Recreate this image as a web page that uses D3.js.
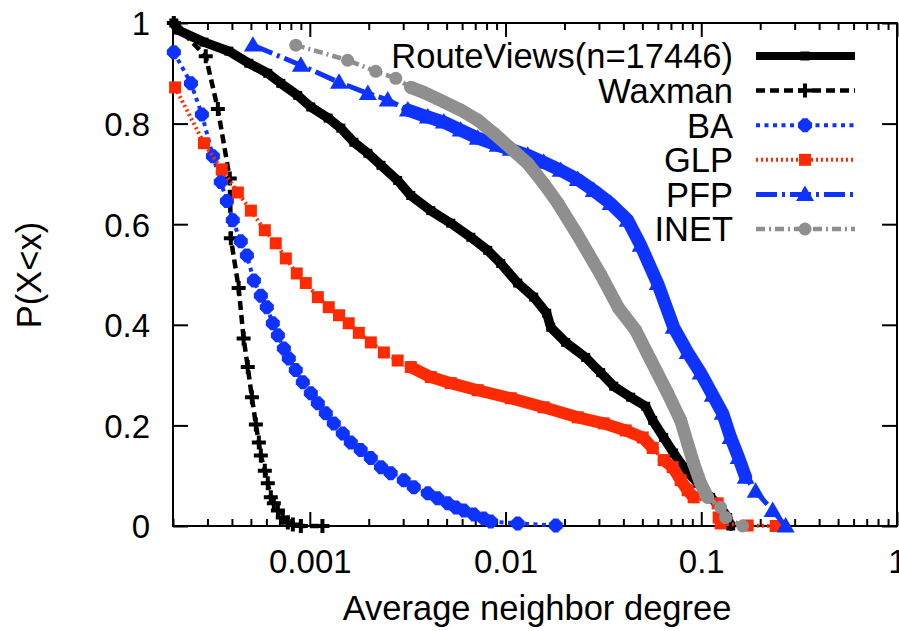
<!DOCTYPE html>
<html><head><meta charset="utf-8">
<script src="https://cdn.jsdelivr.net/npm/d3@7"></script>
<style>
body{margin:0;background:#fff}
text{font-family:"Liberation Sans",Arial,Helvetica,sans-serif;fill:#000}
</style>
</head><body>
<svg id="chart" width="899" height="631"></svg>
<script>
// ---------------- data ----------------
const seriesNames = ["RouteViews(n=17446)", "Waxman", "BA", "GLP", "PFP", "INET"];

const routeViewsX = [0.000202, 0.000212, 0.000288, 0.000386, 0.000488, 0.000610, 0.000711, 0.000868, 0.001012, 0.00124, 0.00144, 0.00168, 0.00198, 0.00231, 0.00281, 0.00328, 0.00415, 0.00525, 0.00665, 0.00811, 0.00945, 0.01154, 0.01393, 0.01623, 0.01702, 0.0203, 0.02569, 0.03063, 0.03569, 0.04359, 0.052, 0.05648, 0.06427, 0.07228, 0.08129, 0.09585, 0.1117, 0.1256, 0.1364, 0.1413];
const routeViewsY = [1.0, 0.986, 0.962, 0.944, 0.920, 0.900, 0.880, 0.856, 0.833, 0.811, 0.791, 0.763, 0.741, 0.717, 0.687, 0.657, 0.627, 0.602, 0.574, 0.548, 0.522, 0.483, 0.455, 0.423, 0.395, 0.365, 0.335, 0.305, 0.278, 0.256, 0.238, 0.210, 0.176, 0.145, 0.117, 0.085, 0.057, 0.037, 0.017, 0.0];

const waxmanX = [0.000202, 0.000294, 0.000339, 0.000390, 0.000395, 0.000433, 0.000459, 0.000482, 0.000506, 0.000530, 0.000549, 0.000562, 0.000589, 0.000610, 0.000632, 0.000655, 0.000687, 0.000728, 0.000772, 0.000819, 0.000900, 0.00116];
const waxmanY = [1.0, 0.934, 0.829, 0.691, 0.572, 0.473, 0.373, 0.316, 0.256, 0.202, 0.166, 0.140, 0.110, 0.085, 0.057, 0.045, 0.031, 0.017, 0.007, 0.003, 0.0, 0.0];

const baX = [0.000202, 0.000247, 0.000281, 0.000320, 0.000351, 0.000377, 0.000404, 0.000444, 0.000477, 0.000518, 0.000562, 0.000603, 0.000647, 0.000687, 0.000737, 0.000781, 0.000848, 0.000921, 0.001012, 0.001099, 0.001207, 0.001326, 0.001474, 0.00162, 0.00182, 0.00205, 0.00231, 0.00259, 0.00302, 0.0034, 0.00401, 0.0045, 0.00507, 0.00557, 0.00612, 0.00688, 0.00774, 0.0084, 0.01154, 0.01805];
const baY = [0.942, 0.880, 0.818, 0.735, 0.684, 0.646, 0.608, 0.566, 0.538, 0.488, 0.458, 0.435, 0.403, 0.379, 0.353, 0.333, 0.310, 0.286, 0.264, 0.244, 0.224, 0.204, 0.184, 0.166, 0.151, 0.135, 0.117, 0.105, 0.091, 0.077, 0.065, 0.055, 0.045, 0.037, 0.031, 0.023, 0.015, 0.009, 0.005, 0.001];

const glpX = [0.000205, 0.000288, 0.000355, 0.000429, 0.0005, 0.000589, 0.00067, 0.000754, 0.000858, 0.000954, 0.001099, 0.00125, 0.00141, 0.00158, 0.00178, 0.00205, 0.00239, 0.00281, 0.00328, 0.00415, 0.00525, 0.00721, 0.01063, 0.01567, 0.02338, 0.03173, 0.04111, 0.0502, 0.05648, 0.06427, 0.07144, 0.07847, 0.08518, 0.09145, 0.1213, 0.1227, 0.1256, 0.1726, 0.2399];
const glpY = [0.872, 0.761, 0.709, 0.663, 0.627, 0.588, 0.562, 0.532, 0.502, 0.483, 0.455, 0.435, 0.419, 0.403, 0.384, 0.365, 0.345, 0.329, 0.316, 0.296, 0.284, 0.270, 0.254, 0.236, 0.216, 0.204, 0.190, 0.176, 0.155, 0.131, 0.117, 0.091, 0.071, 0.057, 0.045, 0.017, 0.005, 0.001, 0.0];

const pfpX = [0.000512, 0.0009, 0.00141, 0.00198, 0.0025, 0.00317, 0.00401, 0.00484, 0.0059, 0.00721, 0.00912, 0.01063, 0.01298, 0.01567, 0.01914, 0.02338, 0.02821, 0.03446, 0.04208, 0.04903, 0.05989, 0.07228, 0.08518, 0.0993, 0.1144, 0.1286, 0.1413, 0.1552, 0.1686, 0.1896, 0.2316, 0.2698];
const pfpY = [0.956, 0.916, 0.882, 0.860, 0.847, 0.827, 0.813, 0.803, 0.787, 0.771, 0.757, 0.749, 0.737, 0.723, 0.707, 0.689, 0.667, 0.641, 0.608, 0.558, 0.482, 0.395, 0.345, 0.304, 0.260, 0.224, 0.176, 0.136, 0.097, 0.069, 0.031, 0.0];

const inetX = [0.000848, 0.00156, 0.00217, 0.00275, 0.00328, 0.00382, 0.00484, 0.0059, 0.00721, 0.0087, 0.01063, 0.01298, 0.01567, 0.01848, 0.02338, 0.03063, 0.03785, 0.04624, 0.05516, 0.06735, 0.07847, 0.08518, 0.09145, 0.0993, 0.1078, 0.1256, 0.1332, 0.1627];
const inetY = [0.956, 0.926, 0.904, 0.890, 0.872, 0.862, 0.843, 0.827, 0.807, 0.781, 0.751, 0.721, 0.681, 0.642, 0.578, 0.500, 0.433, 0.389, 0.330, 0.264, 0.210, 0.164, 0.124, 0.085, 0.057, 0.037, 0.017, 0.0];

const xTickValues = [0.001, 0.01, 0.1, 1];
const xTickLabels = ["0.001", "0.01", "0.1", "1"];
const yTickValues = [0, 0.2, 0.4, 0.6, 0.8, 1];
const yTickLabels = ["0", "0.2", "0.4", "0.6", "0.8", "1"];
const xAxisTitle = "Average neighbor degree";
const yAxisTitle = "P(X<x)";

// ---------------- layout & style ----------------
const BLUE = "#0f33ff", RED = "#ff2a00", GRAY = "#8f8f8f";
const L = 173, R = 897, T = 23, B = 526;
const styles = [
  {color: "#000", width: 8, dash: null, marker: "square", size: 9, bands: [[0, 39]], bandW: 9.5},
  {color: "#000", width: 4.5, dash: "9,5", marker: "plus", size: 14, bands: []},
  {color: BLUE, width: 4, dash: "4,4.5", marker: "star", size: 14, bands: []},
  {color: RED, width: 4, dash: "2,3", marker: "square", size: 12, bands: [[18, 28], [29, 33]], bandW: 12},
  {color: BLUE, width: 5, dash: "21,5,3,5", marker: "triangle", size: 18, bands: [[5, 28]], bandW: 13},
  {color: GRAY, width: 4.5, dash: "9,4,2,4", marker: "circle", size: 13, bands: [[4, 24]], bandW: 13}
];

const seriesX = [routeViewsX, waxmanX, baX, glpX, pfpX, inetX];
const seriesY = [routeViewsY, waxmanY, baY, glpY, pfpY, inetY];
const series = seriesNames.map((name, i) => ({
  name, style: styles[i],
  points: seriesX[i].map((v, j) => ({x: v, y: seriesY[i][j]}))
}));

const svg = d3.select("#chart");
const x = d3.scaleLog().domain([0.0002, 1]).range([L, R]);
const y = d3.scaleLinear().domain([0, 1]).range([B, T]);

// minor ticks
const minorX = [];
for (let d = -4; d <= -1; d++) for (let k = 2; k <= 9; k++) {
  const v = k * Math.pow(10, d);
  if (v >= 0.0002 && v < 1) minorX.push(v);
}

function styleAxis(g) {
  g.select(".domain").remove();
  g.selectAll(".tick line").attr("stroke", "#000").attr("stroke-width", 2);
  g.selectAll(".tick text").style("font-size", "33px");
}

// bottom major
svg.append("g").attr("transform", `translate(0,${B})`)
  .call(d3.axisBottom(x).tickValues(xTickValues).tickSizeInner(-14).tickSizeOuter(0).tickPadding(0)
    .tickFormat((d, i) => xTickLabels[i]))
  .call(styleAxis)
  .call(g => g.selectAll(".tick text").attr("y", 47).attr("dy", null));
// bottom minor
svg.append("g").attr("transform", `translate(0,${B})`)
  .call(d3.axisBottom(x).tickValues(minorX).tickSizeInner(-7).tickSizeOuter(0).tickFormat(""))
  .call(styleAxis);
// top major/minor
svg.append("g").attr("transform", `translate(0,${T})`)
  .call(d3.axisTop(x).tickValues(xTickValues).tickSizeInner(-14).tickSizeOuter(0).tickFormat(""))
  .call(styleAxis);
svg.append("g").attr("transform", `translate(0,${T})`)
  .call(d3.axisTop(x).tickValues(minorX).tickSizeInner(-7).tickSizeOuter(0).tickFormat(""))
  .call(styleAxis);
// left
svg.append("g").attr("transform", `translate(${L},0)`)
  .call(d3.axisLeft(y).tickValues(yTickValues).tickSizeInner(-15).tickSizeOuter(0).tickPadding(23)
    .tickFormat((d, i) => yTickLabels[i]))
  .call(styleAxis)
  .call(g => g.selectAll(".tick text").attr("dy", "0.36em"));
// right
svg.append("g").attr("transform", `translate(${R},0)`)
  .call(d3.axisRight(y).tickValues(yTickValues).tickSizeInner(-15).tickSizeOuter(0).tickFormat(""))
  .call(styleAxis);

// frame
svg.append("rect").attr("x", L).attr("y", T).attr("width", R - L).attr("height", B - T)
  .attr("fill", "none").attr("stroke", "#000").attr("stroke-width", 2);

// markers
function drawMarker(g, cx, cy, st) {
  const s = st.size, h = s / 2;
  if (st.marker === "square") {
    g.append("rect").attr("x", cx - h).attr("y", cy - h).attr("width", s).attr("height", s).attr("fill", st.color);
  } else if (st.marker === "plus") {
    g.append("path").attr("d", `M${cx - h},${cy}H${cx + h}M${cx},${cy - h}V${cy + h}`)
      .attr("stroke", st.color).attr("stroke-width", 4).attr("fill", "none");
  } else if (st.marker === "star") {
    const dd = h * 0.66;
    g.append("path").attr("d",
      `M${cx - h},${cy}H${cx + h}M${cx},${cy - h}V${cy + h}M${cx - dd},${cy - dd}L${cx + dd},${cy + dd}M${cx - dd},${cy + dd}L${cx + dd},${cy - dd}`)
      .attr("stroke", st.color).attr("stroke-width", 5.5).attr("fill", "none");
  } else if (st.marker === "triangle") {
    g.append("path").attr("d", `M${cx},${cy - h}L${cx + h},${cy + h * 0.72}L${cx - h},${cy + h * 0.72}Z`).attr("fill", st.color);
  } else if (st.marker === "circle") {
    g.append("circle").attr("cx", cx).attr("cy", cy).attr("r", h).attr("fill", st.color);
  }
}

const line = d3.line().x(d => x(d.x)).y(d => y(d.y));

series.forEach(s => {
  const g = svg.append("g");
  const st = s.style;
  g.append("path").attr("d", line(s.points)).attr("fill", "none")
    .attr("stroke", st.color).attr("stroke-width", st.width)
    .attr("stroke-dasharray", st.dash).attr("stroke-linejoin", "round");
  st.bands.forEach(([a, b]) => {
    g.append("path").attr("d", line(s.points.slice(a, b + 1))).attr("fill", "none")
      .attr("stroke", st.color).attr("stroke-width", st.bandW)
      .attr("stroke-linejoin", "round").attr("stroke-linecap", "round");
  });
  s.points.forEach(p => drawMarker(g, x(p.x), y(p.y), st));
});

// legend
const lg = svg.append("g");
series.forEach((s, i) => {
  const ry = 56 + i * 34.6;
  lg.append("text").attr("x", 733).attr("y", ry).attr("dy", "0.36em")
    .attr("text-anchor", "end").style("font-size", "34.5px").text(s.name);
  lg.append("line").attr("x1", 756).attr("x2", 855).attr("y1", ry).attr("y2", ry)
    .attr("stroke", s.style.color).attr("stroke-width", s.style.width)
    .attr("stroke-dasharray", s.style.dash);
  drawMarker(lg, 805, ry, s.style);
});

// axis titles
svg.append("text").attr("x", 537).attr("y", 620).attr("text-anchor", "middle")
  .style("font-size", "34.5px").text(xAxisTitle);
svg.append("text").attr("transform", "translate(41,275) rotate(-90)").attr("text-anchor", "middle")
  .style("font-size", "34.5px").text(yAxisTitle);
</script>
</body></html>
